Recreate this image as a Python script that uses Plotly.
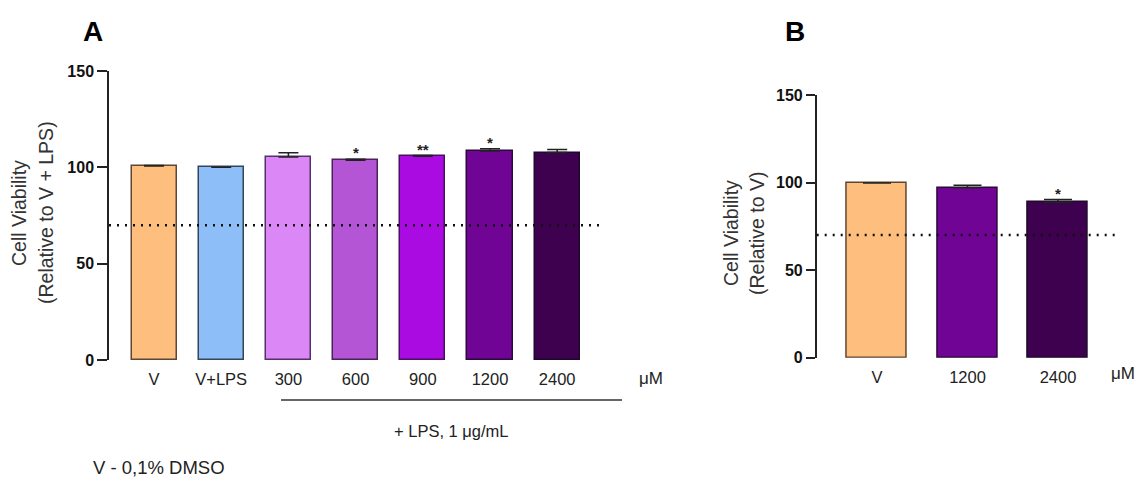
import plotly.graph_objects as go

W, H = 1138, 477
FONT = "Liberation Sans, Arial, sans-serif"

# Panel A: LPS-stimulated cells
cats_a = ["V", "V+LPS", "300", "600", "900", "1200", "2400"]
vals_a = [100.7, 100.0, 105.4, 103.7, 105.7, 108.5, 107.7]
sem_a = [0.3, 0.0, 2.2, 0.5, 0.4, 1.2, 1.5]
sig_a = ["", "", "", "*", "**", "*", ""]
fill_a = ["#FDBE7E", "#8EBEF8", "#DB88F6", "#B455D6", "#AA0BE1", "#700495", "#3D0150"]
edge_a = ["#5E4632", "#33475A", "#55306A", "#4A2458", "#4A1060", "#2A0A38", "#1E0A28"]

# Panel B: unstimulated cells
cats_b = ["V", "1200", "2400"]
vals_b = [99.8, 97.0, 88.8]
sem_b = [0.0, 1.5, 1.5]
sig_b = ["", "", "*"]
fill_b = ["#FDBE7E", "#700495", "#3D0150"]
edge_b = ["#5E4632", "#2A0A38", "#1E0A28"]

threshold = 70
y_ticks = [0, 50, 100, 150]


def px(x):
    return x / W


def py(y):
    return 1 - y / H


fig = go.Figure()

fig.add_trace(go.Bar(
    x=list(range(len(cats_a))), y=vals_a, width=0.67,
    marker=dict(color=fill_a, line=dict(color=edge_a, width=1.5)),
    error_y=dict(type="data", array=sem_a, arrayminus=[0] * len(sem_a),
                 symmetric=False, color="#222", thickness=1.5, width=10),
    xaxis="x", yaxis="y", showlegend=False, hoverinfo="skip",
))
fig.add_trace(go.Bar(
    x=list(range(len(cats_b))), y=vals_b, width=0.66,
    marker=dict(color=fill_b, line=dict(color=edge_b, width=1.5)),
    error_y=dict(type="data", array=sem_b, arrayminus=[0] * len(sem_b),
                 symmetric=False, color="#222", thickness=1.5, width=14),
    xaxis="x2", yaxis="y2", showlegend=False, hoverinfo="skip",
))

ytick_font = dict(family=FONT, size=16, color="#111", weight="bold")
xtick_font = dict(family=FONT, size=16.5, color="#222")

common_x = dict(showline=False, showgrid=False, zeroline=False, automargin=False,
                ticks="outside", ticklen=4, tickcolor="rgba(0,0,0,0)", tickfont=xtick_font)
common_y = dict(range=[0, 150], tickvals=y_ticks, showline=True, linecolor="#222",
                linewidth=1.5, ticks="outside", tickwidth=1.5, tickcolor="#222",
                showgrid=False, zeroline=False, automargin=False, tickfont=ytick_font)

fig.update_layout(
    template="none",
    width=W, height=H,
    margin=dict(l=0, r=0, t=0, b=0, pad=0, autoexpand=False),
    paper_bgcolor="white", plot_bgcolor="white",
    bargap=0,
    xaxis=dict(common_x, domain=[px(109), px(602)], range=[-0.67, 6.667],
               tickvals=list(range(len(cats_a))), ticktext=cats_a, anchor="y"),
    yaxis=dict(common_y, domain=[py(360), py(71)], ticklen=10, anchor="x"),
    xaxis2=dict(common_x, domain=[px(816.7), px(1119)], range=[-0.666, 2.674],
                tickvals=list(range(len(cats_b))), ticktext=cats_b, anchor="y2"),
    yaxis2=dict(common_y, domain=[py(357.7), py(95)], ticklen=9, anchor="x2"),
)

# 70 % viability reference lines
for xr, yr in (("x domain", "y"), ("x2 domain", "y2")):
    fig.add_shape(type="line", xref=xr, yref=yr, x0=0, x1=1, y0=threshold, y1=threshold,
                  line=dict(color="#111", width=2.5, dash="2px,6px"), layer="above")

# Bracket under the LPS-treated groups
fig.add_shape(type="line", xref="paper", yref="paper", x0=px(281), x1=px(622),
              y0=py(400), y1=py(400), line=dict(color="#333", width=1.6))

annotations = []
star_font = dict(family=FONT, size=15, color="#222", weight="bold")

# Significance marks
for i, (v, e, s) in enumerate(zip(vals_a, sem_a, sig_a)):
    if s:
        annotations.append(dict(x=i, y=v + e, xref="x", yref="y", text=s, showarrow=False,
                                yanchor="bottom", yshift=-4, font=star_font))
for i, (v, e, s) in enumerate(zip(vals_b, sem_b, sig_b)):
    if s:
        annotations.append(dict(x=i, y=v + e, xref="x2", yref="y2", text=s, showarrow=False,
                                yanchor="bottom", yshift=-4, font=star_font))


def label(text, x, y, size=16, bold=False, angle=0, xanchor="center", color="#222"):
    annotations.append(dict(text=text, x=px(x), y=py(y), xref="paper", yref="paper",
                            showarrow=False, xanchor=xanchor, yanchor="middle",
                            textangle=angle,
                            font=dict(family=FONT, size=size, color=color,
                                      weight="bold" if bold else "normal")))


label("A", 93, 31, size=28, bold=True, color="#000")
label("B", 795, 31, size=28, bold=True, color="#000")
label("Cell Viability", 19, 213, size=19.5, angle=-90, color="#333")
label("(Relative to V + LPS)", 46, 213, size=19.5, angle=-90, color="#333")
label("Cell Viability", 731, 233, size=19.5, angle=-90, color="#333")
label("(Relative to V)", 757, 233, size=19.5, angle=-90, color="#333")
label("μM", 651, 378, size=17)
label("μM", 1123, 373, size=17)
label("+ LPS, 1 μg/mL", 451, 431, size=16.5)
label("V - 0,1% DMSO", 91, 467, size=18.5, xanchor="left")

fig.update_layout(annotations=annotations)

fig.write_html("out.html")
